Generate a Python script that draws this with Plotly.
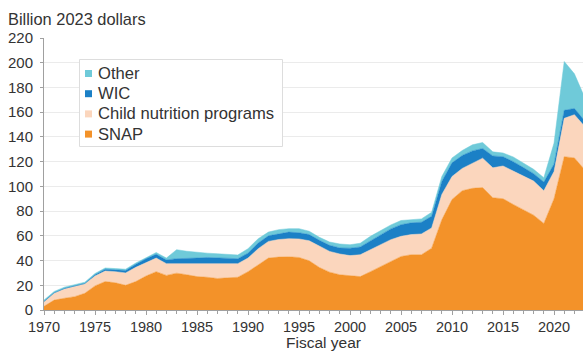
import plotly.graph_objects as go

# Fiscal years and program spending (billion 2023 dollars)
years = list(range(1970, 2024))

snap = [3, 8, 9.5, 10.8, 13.5, 19.5, 23, 22, 20, 23,
        27.5, 31, 28, 29.8, 28.5, 27, 26.5, 25.5, 26, 26.5,
        31, 36.6, 42, 42.8, 43, 42.5, 39.8, 34.4, 30.6, 28.5,
        27.5, 27, 31, 35, 39.3, 43.3, 44.7, 44.7, 50, 73,
        89.4, 96.5, 98.4, 99, 90.8, 90, 85.4, 81.3, 76.7, 70,
        90, 124, 123, 113.5]

child_nutrition = [3.5, 5.5, 7.5, 8.2, 7.5, 8, 8.5, 9, 10, 11.5,
                   11, 11, 9.5, 7.7, 9, 10, 10.5, 11.5, 11.4, 11,
                   11, 13, 13.5, 14.2, 14.7, 15, 16.2, 17.1, 16.8, 16.8,
                   16.5, 17.7, 17.8, 17.8, 17.6, 16.3, 16.3, 16.8, 16.4, 20.5,
                   18.6, 18, 20, 23.8, 24.2, 26.5, 27, 27.1, 27.6, 26.5,
                   22, 31, 35, 35]

wic = [0.5, 0.5, 0.5, 0.5, 0.5, 1, 1.5, 1.5, 2, 2.5,
       3, 3, 3, 4, 4, 5, 5.5, 5, 4.1, 4,
       4, 4.6, 4.5, 4.5, 5.3, 5, 5, 4.9, 4.9, 4.9,
       6, 6.3, 7.2, 8.2, 8.7, 9.4, 9.5, 9.5, 9.4, 10.5,
       11, 10.5, 10.3, 7.8, 9.6, 7.5, 7.6, 6.8, 6, 7,
       6, 6.5, 5, 4.5]

other = [1, 1, 1, 1, 1, 1, 1, 1, 1, 1,
         1, 1.5, 1.5, 7.3, 6, 4.5, 3.5, 3.5, 3.5, 3,
         3.6, 3.5, 3, 3.5, 2.8, 3.3, 2.7, 2.4, 2.7, 3.2,
         2.8, 3, 3.6, 3.5, 3.2, 3.4, 2.5, 2.7, 3.2, 4,
         4, 4, 4.9, 4.9, 3.3, 3, 3.8, 3.8, 3.5, 3.5,
         17, 39.5, 28, 19]

y_ticks = [0, 20, 40, 60, 80, 100, 120, 140, 160, 180, 200, 220]
x_ticks = [1970, 1975, 1980, 1985, 1990, 1995, 2000, 2005, 2010, 2015, 2020]

series = [
    ("SNAP", snap, "#F39229"),
    ("Child nutrition programs", child_nutrition, "#FBD6BD"),
    ("WIC", wic, "#1B80C6"),
    ("Other", other, "#6FCAD9"),
]

W, H = 583, 351
L, R, T, B = 44, 0, 38, 41
FONT = "Liberation Sans, Arial, sans-serif"
TEXT = "#333333"


def px(x):
    return (x - L) / (W - L - R)


def py(y):
    return (H - B - y) / (H - T - B)


fig = go.Figure()
for name, vals, color in series:
    fig.add_trace(go.Scatter(
        x=years, y=vals, name=name, mode="lines",
        stackgroup="programs", line=dict(width=0.5, color=color),
        fillcolor=color, showlegend=False, hoverinfo="x+y+name",
    ))

shapes = [dict(type="rect", xref="paper", yref="paper",
               x0=px(79.5), x1=px(282.5), y0=py(146.5), y1=py(59.5),
               line=dict(color="#DDDDDD", width=1), fillcolor="white",
               layer="above")]
annotations = []
legend_rows = [("Other", "#6FCAD9"), ("WIC", "#1B80C6"),
               ("Child nutrition programs", "#FBD6BD"), ("SNAP", "#F39229")]
for i, (label, color) in enumerate(legend_rows):
    yc = 73.5 + 20.2 * i
    shapes.append(dict(type="rect", xref="paper", yref="paper",
                       x0=px(85), x1=px(92), y0=py(yc + 3.5), y1=py(yc - 3.5),
                       line=dict(width=0), fillcolor=color, layer="above"))
    annotations.append(dict(text=label, xref="paper", yref="paper",
                            x=px(96), y=py(yc), xanchor="left", yanchor="middle",
                            showarrow=False,
                            font=dict(family=FONT, size=16.6, color=TEXT)))

annotations.append(dict(text="Billion 2023 dollars", xref="paper", yref="paper",
                        x=px(6), y=py(19), xanchor="left", yanchor="middle",
                        showarrow=False,
                        font=dict(family=FONT, size=16.4, color=TEXT)))
annotations.append(dict(text="Fiscal year", xref="paper", yref="paper",
                        x=px(323.5), y=py(342.5), xanchor="center",
                        yanchor="middle", showarrow=False,
                        font=dict(family=FONT, size=15.5, color=TEXT)))

fig.update_layout(
    width=W, height=H,
    margin=dict(l=L, r=R, t=T, b=B, pad=0),
    paper_bgcolor="white", plot_bgcolor="white",
    showlegend=False,
    shapes=shapes, annotations=annotations,
    font=dict(family=FONT, size=15, color=TEXT),
)

fig.update_xaxes(
    range=[1970, 2022.84], tickvals=x_ticks, ticktext=[str(v) for v in x_ticks],
    showgrid=False, zeroline=False,
    showline=True, linecolor="#A0A0A0", linewidth=1,
    ticks="outside", ticklen=4, tickcolor="#A0A0A0", tickwidth=1,
    minor=dict(dtick=1, tick0=1970, ticks="outside", ticklen=3,
               tickcolor="#A0A0A0", showgrid=False),
    ticklabelstandoff=0,
    tickfont=dict(family=FONT, size=14.5, color=TEXT),
)
fig.update_yaxes(
    range=[0, 220], tickvals=y_ticks, ticktext=[str(v) for v in y_ticks],
    showgrid=True, gridcolor="#EBEBEB", gridwidth=1, zeroline=False,
    showline=True, linecolor="#A0A0A0", linewidth=1,
    ticks="outside", ticklen=3, tickcolor="#A0A0A0",
    ticklabelstandoff=4,
    tickfont=dict(family=FONT, size=15, color=TEXT),
)

fig.write_html("out.html")
